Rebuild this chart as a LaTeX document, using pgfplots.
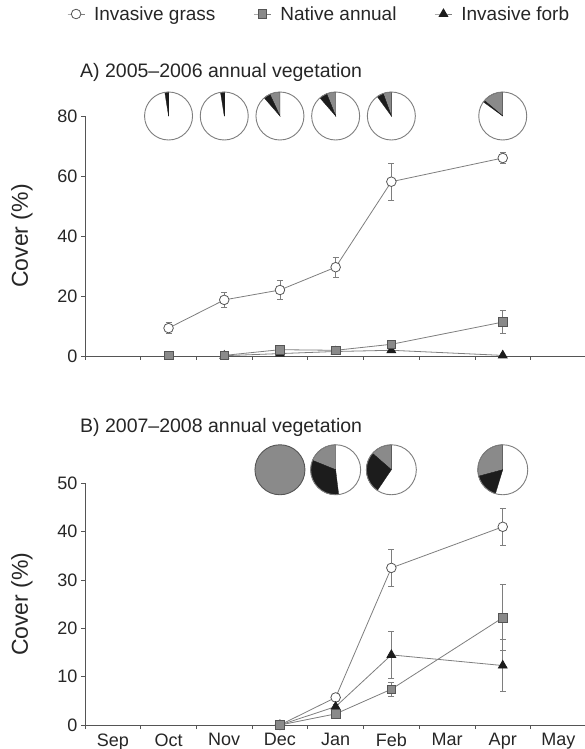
\documentclass[border=0pt]{standalone}
\usepackage{fontspec}
\setmainfont{Liberation Sans}
\usepackage{pgfplots}
\pgfplotsset{compat=1.18}
\usepackage{pgfplotstable}

\definecolor{lin}{HTML}{7E7E7E}
\definecolor{axc}{HTML}{555555}
\definecolor{sqf}{HTML}{8A8A8A}
\definecolor{dk}{HTML}{1C1C1C}

% Panel A
\pgfplotstableread{
x y e
1 9.3 1.8
2 18.7 2.5
3 22.0 3.1
4 29.6 3.4
5 58.1 6.2
7 66.0 1.8
}\grassA
\pgfplotstableread{
x y e
2 0.2 0.3
3 2.1 0.5
4 1.9 0.5
5 3.9 0.8
7 11.3 3.8
}\nativeA
\pgfplotstableread{
x y e
1 0.2 0.2
}\nativeAoct
\pgfplotstableread{
x y e
2 0.1 0
3 0.8 0
4 1.5 0
5 1.9 0
7 0.2 0
}\forbA
% Panel B
\pgfplotstableread{
x y e
3 0 0
4 5.7 0.8
5 32.5 3.8
7 41.0 3.9
}\grassB
\pgfplotstableread{
x y e
3 0 0
4 2.3 0.3
5 7.4 1.5
7 22.2 6.8
}\nativeB
\pgfplotstableread{
x y e
3 0 0
4 3.8 0.5
5 14.5 4.8
7 12.3 5.4
}\forbB

% pie: x, y, grey end angle, black end angle, radius
\newcommand{\pie}[5]{%
  \fill[white] (axis cs:#1,#2) circle[radius=#5];
  \fill[sqf, draw=dk, line width=0.3pt] (axis cs:#1,#2) -- ++(90:#5) arc[start angle=90, end angle=#3, radius=#5] -- cycle;
  \fill[dk, draw=dk, line width=0.3pt] (axis cs:#1,#2) -- ++(#3:#5) arc[start angle=#3, end angle=#4, radius=#5] -- cycle;
  \draw[lin, line width=0.9pt] (axis cs:#1,#2) circle[radius=#5];
}

\pgfplotsset{
  panel/.style={
    scale only axis, width=501.3pt,
    axis lines*=left,
    axis line style={axc, line width=0.8pt, -},
    xmin=-0.5, xmax=8.5, ymin=0,
    enlargelimits=false, clip=false,
    xtick={0,...,8},
    minor xtick={-0.5,0.5,...,8.5},
    major x tick style={draw=none},
    tick align=outside,
    major tick length=4pt, minor tick length=4pt,
    every tick/.style={axc, line width=0.8pt},
    tick label style={font=\fontsize{18}{18}\selectfont, text=black!85},
    /pgf/number format/assume math mode=true,
    ylabel={Cover (\%)},
    every axis y label/.style={at={(axis description cs:-0.126,0.5)}, rotate=90, anchor=center,
      font=\fontsize{23}{23}\selectfont, text=black!85},
  },
  eb/.style={error bars/.cd, y dir=both, y explicit,
    error bar style={lin, line width=0.7pt},
    error mark options={rotate=90, mark size=3pt, lin, line width=0.7pt}},
  grass/.style={lin, line width=0.8pt, mark=*, mark size=4.8pt,
    mark options={fill=white, draw=axc, line width=0.8pt}},
  native/.style={lin, line width=0.8pt, mark=square*, mark size=4.3pt,
    mark options={fill=sqf, draw=axc, line width=0.6pt}},
  forb/.style={lin, line width=0.8pt, mark=triangle*, mark size=5pt,
    mark options={fill=dk, draw=dk}},
}

\begin{document}
\begin{tikzpicture}
\path[use as bounding box] (0,0) rectangle (584pt,749pt);

\begin{axis}[panel, at={(85pt,393pt)}, anchor=south west,
  height=240pt, ymax=80, ytick={0,20,...,80},
  xticklabels={},
  legend columns=3,
  legend style={draw=none, fill=none, inner sep=0pt,
    at={(axis description cs:-0.036,1.425)}, anchor=west,
    font=\fontsize{19}{19}\selectfont, text=black!85,
    /tikz/every odd column/.append style={column sep=7pt},
    /tikz/every even column/.append style={column sep=36pt}},
  legend cell align=left,
]
\addplot[grass, eb] table[x=x, y=y, y error=e] {\grassA};
\addlegendentry{Invasive grass}
\addplot[native, eb] table[x=x, y=y, y error=e] {\nativeA};
\addlegendentry{Native annual}
\addplot[forb, eb] table[x=x, y=y, y error=e] {\forbA};
\addlegendentry{Invasive forb}
\addplot[native, only marks, forget plot] table[x=x, y=y] {\nativeA};
\addplot[native, only marks, forget plot] table[x=x, y=y] {\nativeAoct};
\pie{1}{80}{90}{99}{24pt}
\pie{2}{80}{90}{99}{24pt}
\pie{3}{80}{115}{131}{24pt}
\pie{4}{80}{112}{131}{24pt}
\pie{5}{80}{110}{126}{24pt}
\pie{7}{80}{140}{144}{24pt}
\end{axis}

\begin{axis}[panel, at={(85pt,24pt)}, anchor=south west,
  height=241.7pt, ymax=50, ytick={0,10,...,50},
  xticklabels={Sep,Oct,Nov,Dec,Jan,Feb,Mar,Apr,May},
  xticklabel style={yshift=-1pt},
]
\addplot[grass, eb] table[x=x, y=y, y error=e] {\grassB};
\addplot[forb, eb] table[x=x, y=y, y error=e] {\forbB};
\addplot[native, eb] table[x=x, y=y, y error=e] {\nativeB};
\fill[sqf] (axis cs:3,52.8) circle[radius=25pt];
\draw[axc, line width=0.9pt] (axis cs:3,52.8) circle[radius=25pt];
\pie{4}{52.8}{158}{277}{25pt}
\pie{5}{52.8}{139}{236}{25pt}
\pie{7}{52.8}{195}{253}{25pt}
\end{axis}

\node[anchor=west, font=\fontsize{19.5}{20}\selectfont, text=black!85, inner sep=0pt] at (80pt,677pt) {A) 2005–2006 annual vegetation};
\node[anchor=west, font=\fontsize{19.5}{20}\selectfont, text=black!85, inner sep=0pt] at (80pt,322pt) {B) 2007–2008 annual vegetation};
\end{tikzpicture}
\end{document}
